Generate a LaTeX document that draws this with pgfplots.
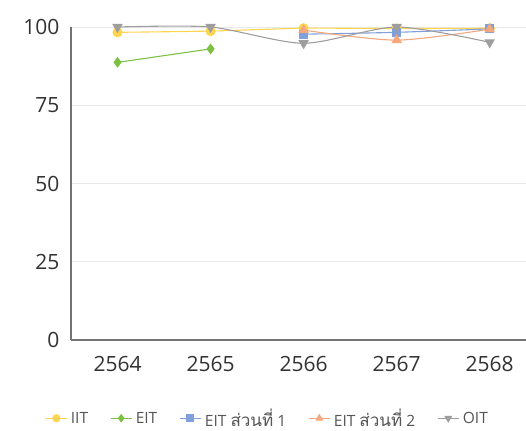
\documentclass[border=0pt]{standalone}
\usepackage{pgfplots}
\pgfplotsset{compat=1.18}
\usepackage{fontspec}
\setmainfont{Open Sans}
\newfontfamily\thaifont[Script=Thai,Scale=1.1]{Loma}
\definecolor{cIIT}{HTML}{FFD54F}
\definecolor{cEIT}{HTML}{7CC142}
\definecolor{cEIT1}{HTML}{809FDB}
\definecolor{cEIT2}{HTML}{F5A77E}
\definecolor{cOIT}{HTML}{9E9E9E}
\definecolor{tickc}{HTML}{333333}
\definecolor{legc}{HTML}{555555}
\begin{document}
\begin{tikzpicture}
\path[use as bounding box] (-71pt,-90pt) rectangle (455pt,340pt);
\begin{axis}[
  at={(0pt,0pt)}, anchor=south west,
  scale only axis, width=455pt, height=313pt,
  xmin=-0.5, xmax=4.39, ymin=0, ymax=100,
  xtick={0,1,2,3,4}, xticklabels={2564,2565,2566,2567,2568},
  ytick={0,25,50,75,100},
  axis x line*=bottom, axis y line*=left,
  axis line style={draw=black!55, line width=1.1pt},
  ymajorgrids, grid style={draw=black!9, line width=0.8pt},
  major tick length=0pt,
  ticklabel style={font=\fontsize{21}{24}\selectfont, text=tickc},
  /pgf/number format/assume math mode=true,
  xticklabel style={yshift=-13pt},
  yticklabel style={xshift=-8pt},
  clip=false,
  legend columns=5,
  legend style={at={(0.432,-0.25)}, anchor=center, draw=none, fill=none,
    font=\fontsize{15.5}{17}\selectfont, text=legc,
    /tikz/every odd column/.append style={column sep=1.5pt},
    /tikz/every even column/.append style={column sep=20pt}},
  legend image code/.code={
    \draw[mark repeat=2,mark phase=2,#1, mark size=3.5pt] plot coordinates {(0cm,0cm) (0.37cm,0cm) (0.74cm,0cm)};},
  every axis plot/.append style={smooth, tension=0.45, line width=1.1pt},
]
\addplot[color=cIIT, mark=*, mark size=4.5pt, mark options={fill=cIIT, draw=cIIT}] coordinates {(0,98.3) (1,98.7) (2,99.6) (3,99.5) (4,99.6)};
\addlegendentry{IIT}
\addplot[color=cEIT, mark=diamond*, mark size=4.5pt, mark options={fill=cEIT, draw=cEIT}] coordinates {(0,88.7) (1,93.0)};
\addlegendentry{EIT}
\addplot[color=cEIT1, mark=square*, mark size=4pt, mark options={fill=cEIT1, draw=cEIT1}] coordinates {(2,97.7) (3,98.3) (4,99.4)};
\addlegendentry{EIT {\thaifont ส่วนที่} 1}
\addplot[color=cEIT2, mark=triangle*, mark size=5pt, mark options={fill=cEIT2, draw=cEIT2}] coordinates {(2,99.0) (3,95.8) (4,99.3)};
\addlegendentry{EIT {\thaifont ส่วนที่} 2}
\addplot[color=cOIT, mark=triangle*, mark size=5pt, mark options={fill=cOIT, draw=cOIT, rotate=180}] coordinates {(0,100) (1,100) (2,94.8) (3,100) (4,95.1)};
\addlegendentry{OIT}
\end{axis}
\end{tikzpicture}
\end{document}
